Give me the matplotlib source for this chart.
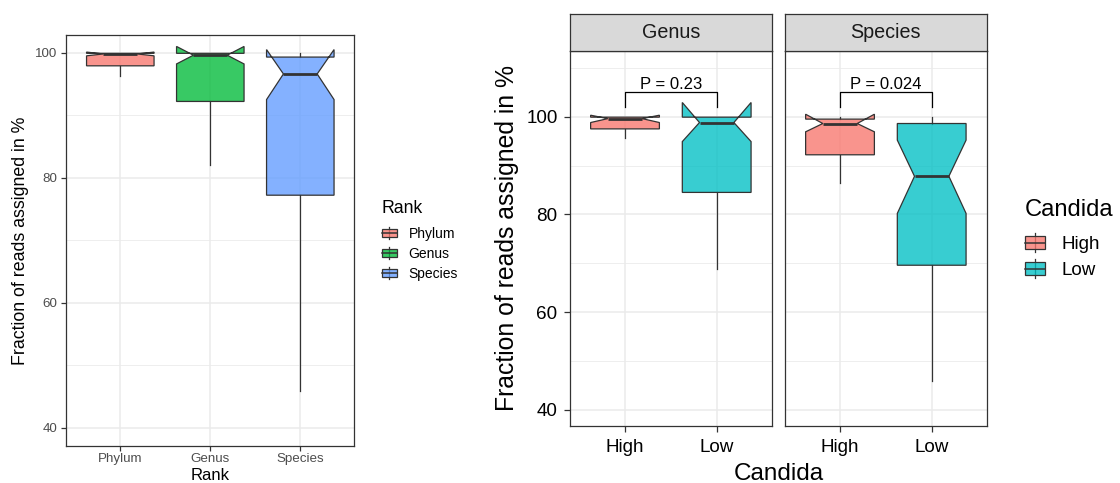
import matplotlib
matplotlib.use("Agg")
import matplotlib.pyplot as plt
from matplotlib.colors import to_rgba
from matplotlib.legend_handler import HandlerBase
from matplotlib.lines import Line2D
from matplotlib.patches import Patch, Rectangle

plt.rcParams['font.family'] = ['Liberation Sans', 'DejaVu Sans']

# left: fraction of reads assigned, per rank (box stats)
rank_names = ["Phylum", "Genus", "Species"]
rank_colors = ["#F8766D", "#00BA38", "#619CFF"]
rank_q1 = [97.9, 92.2, 77.2]
rank_med = [99.8, 99.6, 96.6]
rank_q3 = [99.9, 99.9, 99.3]
rank_lo = [96.3, 82.0, 45.9]
rank_hi = [100.0, 100.0, 100.0]
rank_notch_lo = [99.5, 98.2, 92.5]
rank_notch_hi = [100.1, 101.0, 100.5]

# right: same, split by Candida level, faceted by rank
candida = ["High", "Low"]
candida_colors = ["#F8766D", "#00BFC4"]
facets = ["Genus", "Species"]
genus_q1 = [97.5, 84.5]
genus_med = [99.6, 98.8]
genus_q3 = [99.9, 99.9]
genus_lo = [95.7, 68.8]
genus_hi = [100.0, 100.0]
genus_notch_lo = [98.8, 94.9]
genus_notch_hi = [100.3, 102.9]
species_q1 = [92.2, 69.6]
species_med = [98.6, 87.8]
species_q3 = [99.5, 98.6]
species_lo = [86.5, 45.9]
species_hi = [100.0, 100.0]
species_notch_lo = [96.9, 80.2]
species_notch_hi = [100.5, 95.2]
p_labels = ["P = 0.23", "P = 0.024"]
bracket_top = 105.0
bracket_tip = 101.9

EDGE = '#333333'
GRID = '#EBEBEB'
ALPHA = 0.78
W, H = 1120, 483

fig = plt.figure(figsize=(W / 100, H / 100), dpi=100)


def px_axes(x0, y0, x1, y1):
    return fig.add_axes([x0 / W, 1 - y1 / H, (x1 - x0) / W, (y1 - y0) / H])


class BoxKey(HandlerBase):
    def create_artists(self, legend, orig_handle, xdescent, ydescent,
                       width, height, fontsize, trans):
        x0, y0 = -xdescent, -ydescent
        cx = x0 + width / 2
        whisk = Line2D([cx, cx], [y0, y0 + height], color=EDGE, lw=0.9,
                       transform=trans)
        box = Rectangle((x0, y0 + 0.16 * height), width, 0.68 * height,
                        facecolor=orig_handle.get_facecolor(), edgecolor=EDGE,
                        lw=0.9, transform=trans)
        med = Line2D([x0, x0 + width], [y0 + height / 2] * 2, color=EDGE,
                     lw=1.1, transform=trans)
        return [whisk, box, med]


def style(ax, ylim, minor, labelsize, labelcolor, xpad, ypad, ticklen):
    ax.set_ylim(*ylim)
    ax.set_yticks([40, 60, 80, 100])
    ax.set_yticks(minor, minor=True)
    ax.grid(which='major', color=GRID, lw=1.1)
    ax.grid(which='minor', axis='y', color=GRID, lw=0.6)
    ax.set_axisbelow(True)
    for s in ax.spines.values():
        s.set_color(EDGE)
        s.set_linewidth(0.9)
    ax.tick_params(which='major', length=ticklen, width=0.9, color=EDGE,
                   labelsize=labelsize, labelcolor=labelcolor)
    ax.tick_params(axis='x', pad=xpad)
    ax.tick_params(axis='y', pad=ypad)
    ax.tick_params(which='minor', length=0)


def draw_boxes(ax, q1, med, q3, lo, hi, nlo, nhi, colors):
    stats = [dict(q1=a, med=m, q3=b, whislo=l, whishi=h, cilo=cl, cihi=ch, fliers=[])
             for a, m, b, l, h, cl, ch in zip(q1, med, q3, lo, hi, nlo, nhi)]
    art = ax.bxp(stats, positions=list(range(1, len(stats) + 1)), widths=0.75,
                 shownotches=True, showcaps=False, showfliers=False,
                 patch_artist=True, manage_ticks=False,
                 boxprops=dict(edgecolor=EDGE, linewidth=0.9, zorder=3),
                 medianprops=dict(color=EDGE, linewidth=2.0, zorder=4),
                 whiskerprops=dict(color=EDGE, linewidth=0.9, zorder=2))
    for patch, c in zip(art['boxes'], colors):
        patch.set_facecolor(to_rgba(c, ALPHA))


# ---- left panel
ax = px_axes(66.3, 34.7, 354.3, 446)
draw_boxes(ax, rank_q1, rank_med, rank_q3, rank_lo, rank_hi,
           rank_notch_lo, rank_notch_hi, rank_colors)
ax.set_xticks(range(1, len(rank_names) + 1), rank_names)
ax.set_xlim(0.4, len(rank_names) + 0.6)
style(ax, (37.07, 102.88), [50, 70, 90], 9.6, '#4D4D4D', 1.2, 2.6, 3.6)

fig.text(20.7 / W, 1 - 240.4 / H, "Fraction of reads assigned in %",
         rotation=90, ha='center', va='center', fontsize=12.8)
fig.text(210 / W, 1 - 479.5 / H, "Rank", ha='center', va='baseline', fontsize=12)

leg = fig.legend([Patch(facecolor=to_rgba(c, ALPHA)) for c in rank_colors],
                 rank_names, handler_map={Patch: BoxKey()},
                 loc='upper left', bbox_to_anchor=(381.5 / W, 1 - 200 / H),
                 frameon=False, title="Rank", title_fontsize=12.7, fontsize=10,
                 alignment='left', borderpad=0, borderaxespad=0,
                 handlelength=1.08, handleheight=1.0, labelspacing=0.43,
                 handletextpad=0.86)
leg._legend_box.sep = 7.2

# ---- right panels
panel_x = [(570, 771.7), (785, 986.7)]
facet_stats = [
    (genus_q1, genus_med, genus_q3, genus_lo, genus_hi, genus_notch_lo, genus_notch_hi),
    (species_q1, species_med, species_q3, species_lo, species_hi, species_notch_lo, species_notch_hi),
]
for i, (name, st, (x0, x1), p) in enumerate(zip(facets, facet_stats, panel_x, p_labels)):
    ax = px_axes(x0, 50.7, x1, 426)
    draw_boxes(ax, *st, candida_colors)
    ax.set_xticks(range(1, len(candida) + 1), candida)
    ax.set_xlim(0.4, len(candida) + 0.6)
    style(ax, (36.7, 113.5), [50, 70, 90, 110], 13.6, 'black', 5.5, 5.0, 4)
    if i > 0:
        ax.tick_params(axis='y', left=False, labelleft=False)
    ax.plot([1, 1, 2, 2], [bracket_tip, bracket_top, bracket_top, bracket_tip],
            color='black', lw=0.9, zorder=5)
    ax.text(1.5, 105.6, p, ha='center', va='baseline', fontsize=12, zorder=5)

    strip = px_axes(x0, 14, x1, 50.7)
    strip.set_facecolor('#D9D9D9')
    strip.set_xticks([])
    strip.set_yticks([])
    for s in strip.spines.values():
        s.set_color(EDGE)
        s.set_linewidth(0.9)
    strip.text(0.5, 0.5, name, ha='center', va='center', fontsize=14.2,
               color='#1A1A1A', transform=strip.transAxes)

fig.text(507 / W, 1 - 238.4 / H, "Fraction of reads assigned in %",
         rotation=90, ha='center', va='center', fontsize=17.8)
fig.text(778.4 / W, 1 - 479.5 / H, "Candida", ha='center', va='baseline',
         fontsize=17.5)

leg2 = fig.legend([Patch(facecolor=to_rgba(c, ALPHA)) for c in candida_colors],
                  candida, handler_map={Patch: BoxKey()},
                  loc='upper left', bbox_to_anchor=(1025 / W, 1 - 199 / H),
                  frameon=False, title="Candida", title_fontsize=17.1,
                  fontsize=13.5, alignment='left', borderpad=0, borderaxespad=0,
                  handlelength=1.07, handleheight=1.16, labelspacing=0.33,
                  handletextpad=0.89)
leg2._legend_box.sep = 8.9

fig.savefig("out.png", dpi=100)
